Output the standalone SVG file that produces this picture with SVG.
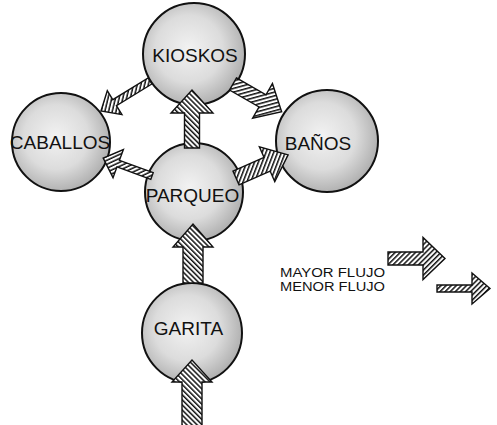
<svg xmlns="http://www.w3.org/2000/svg" width="497" height="425" viewBox="0 0 497 425">
  <defs>
    <radialGradient id="ball" cx="0.45" cy="0.45" r="0.6">
      <stop offset="0" stop-color="#f2f2f2"/>
      <stop offset="0.55" stop-color="#dcdcdc"/>
      <stop offset="1" stop-color="#a9a9a9"/>
    </radialGradient>
    <pattern id="hatch" patternUnits="userSpaceOnUse" width="3.6" height="3.6" patternTransform="rotate(45)">
      <rect width="3.6" height="3.6" fill="#ffffff"/>
      <rect width="1.5" height="3.6" fill="#111111"/>
    </pattern>
  </defs>
  <style>
    .node circle { fill: url(#ball); stroke: #111; stroke-width: 2; }
    .node text { font-family: "Liberation Sans", Arial, sans-serif; font-size: 19px; fill: #111; text-anchor: middle; }
    .arrow { fill: url(#hatch); stroke: #111; stroke-width: 1.4; stroke-linejoin: miter; }
    .legend text { font-family: "Liberation Sans", Arial, sans-serif; font-size: 12px; fill: #111; }
  </style>
  <rect width="497" height="425" fill="#ffffff"/>

  <g id="kioskos" class="node">
    <circle cx="194" cy="54" r="51"/>
    <text x="195" y="62">KIOSKOS</text>
  </g>
  <g id="caballos" class="node">
    <circle cx="61" cy="142" r="49"/>
    <text x="60" y="148.5">CABALLOS</text>
  </g>
  <g id="banos" class="node">
    <circle cx="327" cy="141" r="51"/>
    <text x="318" y="150">BAÑOS</text>
  </g>
  <g id="parqueo" class="node">
    <circle cx="194" cy="192" r="49"/>
    <text x="192.5" y="202">PARQUEO</text>
  </g>
  <g id="garita" class="node">
    <circle cx="192" cy="333" r="50"/>
    <text x="188.5" y="335">GARITA</text>
  </g>

  <g id="connectors">
    <polygon class="arrow" transform="translate(192,426) rotate(-90)" points="0,-10 44,-10 44,-20 66,0 44,20 44,10 0,10"/>
    <polygon class="arrow" transform="translate(193,283) rotate(-90)" points="0,-10 36,-10 36,-20 59,0 36,20 36,10 0,10"/>
    <polygon class="arrow" transform="translate(192,148) rotate(-90)" points="0,-7.5 35,-7.5 35,-21 58,0 35,21 35,7.5 0,7.5"/>
    <polygon class="arrow" transform="translate(233,84) rotate(29.7)" points="0,-7 34,-7 34,-20 56,0 34,20 34,7 0,7"/>
    <polygon class="arrow" transform="translate(236,178) rotate(-23.9)" points="0,-7.5 34,-7.5 34,-19 57,0 34,19 34,7.5 0,7.5"/>
    <polygon class="arrow" transform="translate(150,81) rotate(148.5)" points="0,-3.5 41.5,-3.5 41.5,-14 57.5,0 41.5,14 41.5,3.5 0,3.5"/>
    <polygon class="arrow" transform="translate(152,176) rotate(200.2)" points="0,-3.5 36,-3.5 36,-15 52,0 36,15 36,3.5 0,3.5"/>
  </g>

  <g id="legend" class="legend">
    <text x="280" y="276.5" textLength="105" lengthAdjust="spacingAndGlyphs">MAYOR FLUJO</text>
    <text x="280" y="290.5" textLength="105" lengthAdjust="spacingAndGlyphs">MENOR FLUJO</text>
    <polygon class="arrow" transform="translate(388,258.5)" points="0,-6.5 35,-6.5 35,-21 57,0 35,21 35,6.5 0,6.5"/>
    <polygon class="arrow" transform="translate(437,288.5)" points="0,-3.5 35,-3.5 35,-15.5 53,0 35,15.5 35,3.5 0,3.5"/>
  </g>
</svg>
